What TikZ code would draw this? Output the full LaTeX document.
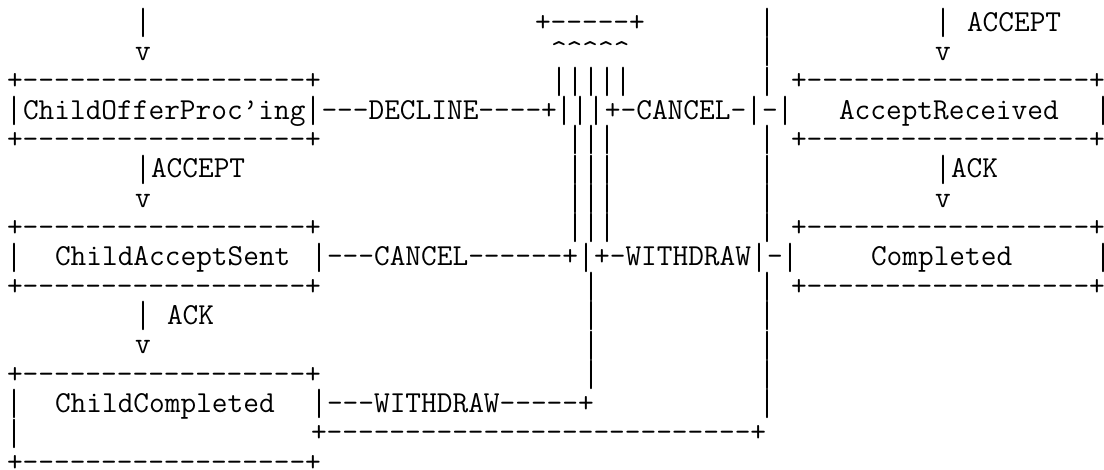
\documentclass[tikz,border=0pt]{standalone}
\usepackage{graphicx}
\newcommand\asciifont{\fontsize{30.476pt}{29.33pt}\selectfont\ttfamily}
\tikzset{
  asc/.style={anchor=base west, inner sep=0pt, outer sep=0pt, font=\asciifont, text=black},
}
% a full-height vertical bar character, one column wide
\newsavebox\vbbox
\newcommand\vb{\sbox\vbbox{\resizebox*{16pt}{29.4pt}{|}}\raisebox{\dimexpr\dp\vbbox-6.5pt\relax}{\usebox\vbbox}}
% \A{name}{column}{row}{text}
\newcommand\A[4]{\node[asc] (#1) at ({7+16*#2},{-(31.2+29.33*#3)}) {#4};}
\newcommand\boxline{+------------------+}
\newcommand\crt{\textasciicircum}
\begin{document}
\begin{tikzpicture}[x=1pt,y=1pt]
\fill[white] (0,0) rectangle (1104,-470);
\useasboundingbox (0,0) rectangle (1104,-470);
% row 0
\A{a0}{8}{0}{\vb}
\A{b0}{33}{0}{+-----+}
\A{c0}{47}{0}{\vb}
\A{d0}{58}{0}{\vb}
\A{e0}{60}{0}{ACCEPT}
% row 1
\A{a1}{8}{1}{v}
\A{b1}{34}{1}{\crt\crt\crt\crt\crt}
\A{c1}{47}{1}{\vb}
\A{d1}{58}{1}{v}
% row 2
\A{a2}{0}{2}{\boxline}
\A{b2}{34}{2}{\vb\vb\vb\vb\vb}
\A{c2}{47}{2}{\vb}
\A{d2}{49}{2}{\boxline}
% row 3
\A{a3}{0}{3}{\vb ChildOfferProc’ing\vb---DECLINE----+\vb\vb\vb+-CANCEL-\vb-\vb}
\A{b3}{52}{3}{AcceptReceived}
\A{c3}{68}{3}{\vb}
% row 4
\A{a4}{0}{4}{\boxline}
\A{b4}{35}{4}{\vb\vb\vb}
\A{c4}{47}{4}{\vb}
\A{d4}{49}{4}{\boxline}
% row 5
\A{a5}{8}{5}{\vb ACCEPT}
\A{b5}{35}{5}{\vb\vb\vb}
\A{c5}{47}{5}{\vb}
\A{d5}{58}{5}{\vb ACK}
% row 6
\A{a6}{8}{6}{v}
\A{b6}{35}{6}{\vb\vb\vb}
\A{c6}{47}{6}{\vb}
\A{d6}{58}{6}{v}
% row 7
\A{a7}{0}{7}{\boxline}
\A{b7}{35}{7}{\vb\vb\vb}
\A{c7}{47}{7}{\vb}
\A{d7}{49}{7}{\boxline}
% row 8
\A{a8}{0}{8}{\vb}
\A{b8}{3}{8}{ChildAcceptSent}
\A{c8}{19}{8}{\vb---CANCEL------+\vb+-WITHDRAW\vb-\vb}
\A{d8}{54}{8}{Completed}
\A{e8}{68}{8}{\vb}
% row 9
\A{a9}{0}{9}{\boxline}
\A{b9}{36}{9}{\vb}
\A{c9}{47}{9}{\vb}
\A{d9}{49}{9}{\boxline}
% row 10
\A{a10}{8}{10}{\vb}
\A{b10}{10}{10}{ACK}
\A{c10}{36}{10}{\vb}
\A{d10}{47}{10}{\vb}
% row 11
\A{a11}{8}{11}{v}
\A{b11}{36}{11}{\vb}
\A{c11}{47}{11}{\vb}
% row 12
\A{a12}{0}{12}{\boxline}
\A{b12}{36}{12}{\vb}
\A{c12}{47}{12}{\vb}
% row 13
\A{a13}{0}{13}{\vb}
\A{b13}{3}{13}{ChildCompleted}
\A{c13}{19}{13}{\vb---WITHDRAW-----+}
\A{d13}{47}{13}{\vb}
% row 14
\A{a14}{0}{14}{\vb}
\A{b14}{19}{14}{+---------------------------+}
% row 15
\A{a15}{0}{15}{\boxline}
\end{tikzpicture}
\end{document}
